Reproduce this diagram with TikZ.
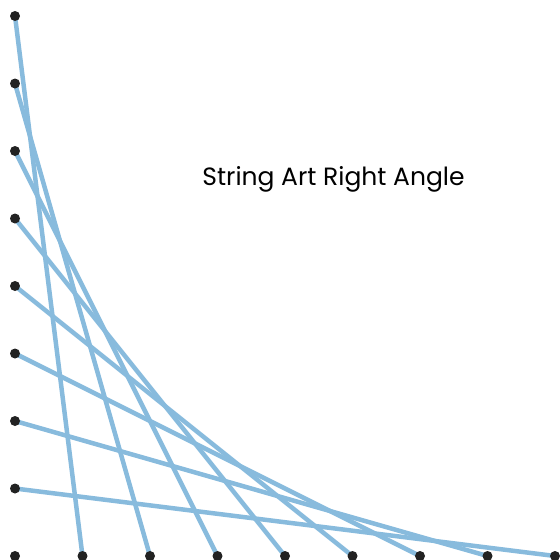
\documentclass[tikz,border=0pt]{standalone}
\usepackage{fontspec}
\setmainfont{Poppins}
\begin{document}
\begin{tikzpicture}[x=1pt,y=-1pt,
  string/.style={draw={rgb,255:red,136;green,187;blue,221},line width=4.5pt},
  pin/.style={circle,fill={rgb,255:red,34;green,34;blue,34},inner sep=0pt,minimum size=10pt}]
\useasboundingbox (0,0) rectangle (560,560);
\foreach \i/\y in {0/16,1/83.5,2/151,3/218.5,4/286,5/353.5,6/421,7/488.5,8/556}{
  \coordinate (L\i) at (15,\y);
}
\foreach \i/\x in {1/82.5,2/150,3/217.5,4/285,5/352.5,6/420,7/487.5,8/555}{
  \coordinate (B\i) at (\x,556);
}
\foreach \i [evaluate=\i as \j using int(\i+1)] in {0,...,7}{
  \draw[string] (L\i) -- (B\j);
}
\foreach \i in {0,...,8}{\node[pin] (PL\i) at (L\i) {};}
\foreach \i in {1,...,8}{\node[pin] (PB\i) at (B\i) {};}
\node[font=\fontsize{25}{30}\selectfont] (title) at (333.5,179) {String Art Right Angle};
\end{tikzpicture}
\end{document}
